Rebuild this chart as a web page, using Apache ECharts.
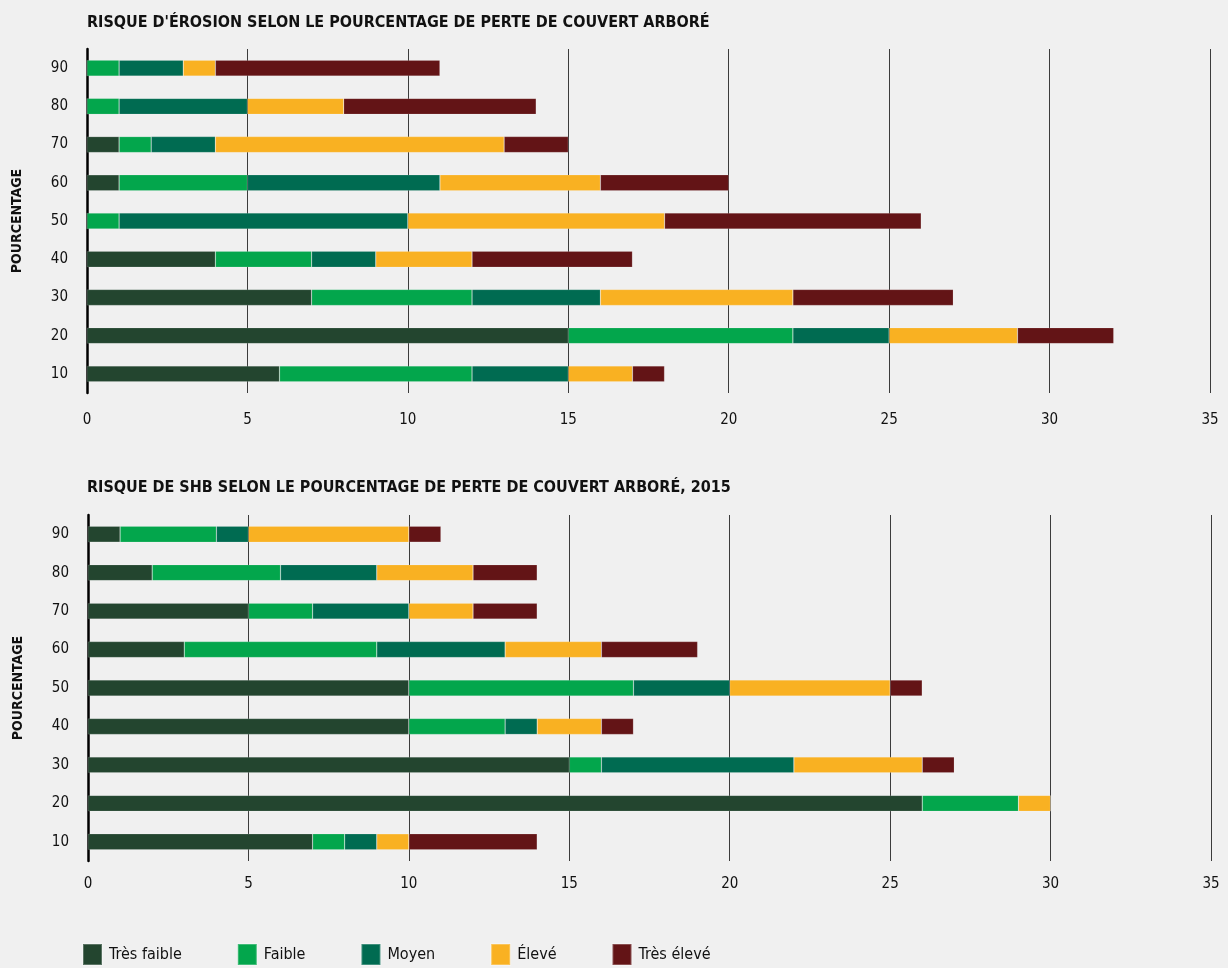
<!DOCTYPE html>
<html>
<head>
<meta charset="utf-8">
<script src="https://cdn.jsdelivr.net/npm/echarts@6/dist/echarts.min.js"></script>
<style>
html,body{margin:0;padding:0;background:#f0f0f0;}
#c{width:1228px;height:968px;}
</style>
</head>
<body>
<div id="c"></div>
<script>
const categories = ['10','20','30','40','50','60','70','80','90'];
const seriesNames = ['Très faible','Faible','Moyen','Élevé','Très élevé'];
const seriesColors = ['#23452f','#03a64c','#006b51','#f9b122','#631416'];
const xTicks = [0,5,10,15,20,25,30,35];

const titleErosion = "RISQUE D'ÉROSION SELON LE POURCENTAGE DE PERTE DE COUVERT ARBORÉ";
const titleShb = "RISQUE DE SHB SELON LE POURCENTAGE DE PERTE DE COUVERT ARBORÉ, 2015";
const yAxisName = 'POURCENTAGE';

// Erosion (order: 10 .. 90)
const erosionTresFaible = [6,15,7,4,0,1,1,0,0];
const erosionFaible     = [6,7,5,3,1,4,1,1,1];
const erosionMoyen      = [3,3,4,2,9,6,2,4,2];
const erosionEleve      = [2,4,6,3,8,5,9,3,1];
const erosionTresEleve  = [1,3,5,5,8,4,2,6,7];

// SHB (order: 10 .. 90)
const shbTresFaible = [7,26,15,10,10,3,5,2,1];
const shbFaible     = [1,3,1,3,7,6,2,4,3];
const shbMoyen      = [1,0,6,1,3,4,3,3,1];
const shbEleve      = [1,1,4,2,5,3,2,3,5];
const shbTresEleve  = [4,0,1,1,1,3,2,2,1];

const erosionData = [erosionTresFaible, erosionFaible, erosionMoyen, erosionEleve, erosionTresEleve];
const shbData = [shbTresFaible, shbFaible, shbMoyen, shbEleve, shbTresEleve];

const FONT = '"DejaVu Sans Condensed", "Liberation Sans Narrow", sans-serif';

function xAxis(gridIndex, margin) {
  return {
    type: 'value', gridIndex: gridIndex, min: xTicks[0], max: xTicks[xTicks.length-1], interval: 5,
    axisLine: {show: false}, axisTick: {show: false},
    axisLabel: {color: '#111', fontSize: 15, fontFamily: FONT, margin: margin},
    splitLine: {show: true, lineStyle: {color: '#3c3c3c', width: 1}}
  };
}
function yAxis(gridIndex) {
  return {
    type: 'category', gridIndex: gridIndex, data: categories,
    axisLine: {show: true, lineStyle: {color: '#000', width: 2.5}},
    axisTick: {show: false},
    axisLabel: {color: '#111', fontSize: 15, fontFamily: FONT, margin: 19},
    name: yAxisName, nameLocation: 'middle', nameGap: 63, nameRotate: 90,
    nameTextStyle: {color: '#111', fontSize: 14, fontWeight: 'bold', fontFamily: FONT}
  };
}

const series = [];
[erosionData, shbData].forEach(function(ds, gi) {
  ds.forEach(function(vals, si) {
    series.push({
      name: seriesNames[si], type: 'bar', stack: 'g' + gi,
      xAxisIndex: gi, yAxisIndex: gi, barWidth: 16,
      itemStyle: {color: seriesColors[si], borderColor: 'rgba(255,255,255,0.25)', borderWidth: 0.6},
      data: vals
    });
  });
});

const chart = echarts.init(document.getElementById('c'), null, {renderer: 'canvas'});
chart.setOption({
  backgroundColor: '#f0f0f0',
  animation: false,
  color: seriesColors,
  title: [
    {text: titleErosion, left: 82, top: 10, textStyle: {fontSize: 16, fontWeight: 'bold', color: '#111', fontFamily: FONT}},
    {text: titleShb, left: 82, top: 475, textStyle: {fontSize: 16, fontWeight: 'bold', color: '#111', fontFamily: FONT}}
  ],
  legend: {
    data: seriesNames, left: 77, top: 938, itemWidth: 19, itemHeight: 21, itemGap: 55,
    icon: 'rect',
    textStyle: {color: '#111', fontSize: 16, fontFamily: FONT, padding: [0,0,0,2]}
  },
  grid: [
    {left: 87, right: 18, top: 49, height: 344},
    {left: 88, right: 17, top: 515, height: 346}
  ],
  xAxis: [xAxis(0, 20), xAxis(1, 16)],
  yAxis: [yAxis(0), yAxis(1)],
  series: series
});
</script>
</body>
</html>
